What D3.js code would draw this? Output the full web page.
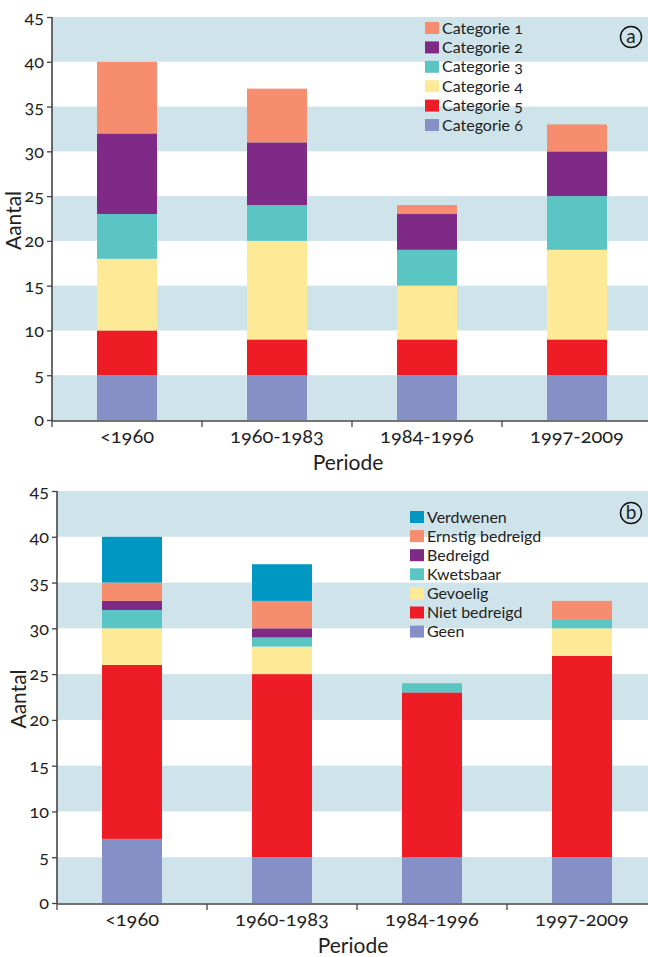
<!DOCTYPE html>
<html>
<head>
<meta charset="utf-8">
<script src="https://cdn.jsdelivr.net/npm/d3@7/dist/d3.min.js"></script>
<style>
  body { margin: 0; background: #fff; }
  text { font-family: Lato, "Open Sans", sans-serif; fill: #222; font-feature-settings: "onum"; }
</style>
</head>
<body>
<div id="main"></div>
<script>
var W = 648, H = 957;

// shared categories
var periods = ["<1960", "1960-1983", "1984-1996", "1997-2009"];
var yTicks = [0, 5, 10, 15, 20, 25, 30, 35, 40, 45];

// panel a, series listed bottom to top
var seriesA = ["Categorie 6", "Categorie 5", "Categorie 4", "Categorie 3", "Categorie 2", "Categorie 1"];
var cat6 = [5, 5, 5, 5];
var cat5 = [5, 4, 4, 4];
var cat4 = [8, 11, 6, 10];
var cat3 = [5, 4, 4, 6];
var cat2 = [9, 7, 4, 5];
var cat1 = [8, 6, 1, 3];

// panel b, series listed bottom to top
var seriesB = ["Geen", "Niet bedreigd", "Gevoelig", "Kwetsbaar", "Bedreigd", "Ernstig bedreigd", "Verdwenen"];
var geen = [7, 5, 5, 5];
var nietBedreigd = [19, 20, 18, 22];
var gevoelig = [4, 3, 0, 3];
var kwetsbaar = [2, 1, 1, 1];
var bedreigd = [1, 1, 0, 0];
var ernstig = [2, 3, 0, 2];
var verdwenen = [5, 4, 0, 0];

var colorsA = ["#8590c7", "#ee1d25", "#feea96", "#5bc5c4", "#7f2a87", "#f68d6e"];
var colorsB = ["#8590c7", "#ee1d25", "#feea96", "#5bc5c4", "#7f2a87", "#f68d6e", "#0098c3"];

var svg = d3.select("#main").append("svg").attr("width", W).attr("height", H);

var drawPanel = function (opts) {
    var g = svg.append("g");
    var x = d3.scaleBand().domain(periods).range([opts.x0, opts.x0 + 600]).paddingInner(0.6).paddingOuter(0.3);
    var xb = d3.scaleBand().domain(periods).range([opts.x0, opts.x0 + 600]);
    var y = d3.scaleLinear().domain([0, 45]).range([opts.yBottom, opts.yTop]);

    // background stripes
    g.append("g").selectAll("rect")
        .data([0, 10, 20, 30, 40])
        .enter().append("rect")
        .attr("x", opts.x0)
        .attr("width", W - opts.x0)
        .attr("y", (d) => y(d + 5))
        .attr("height", (d) => y(d) - y(d + 5))
        .attr("fill", "#cfe4ea");

    // stacked bars
    var rows = periods.map(function (p, i) {
        var r = { period: p };
        opts.keys.forEach(function (k, j) { r[k] = opts.values[j][i]; });
        return r;
    });
    var stacked = d3.stack().keys(opts.keys)(rows);
    g.append("g").selectAll("g")
        .data(stacked)
        .enter().append("g")
        .attr("fill", (d, i) => opts.colors[i])
        .selectAll("rect")
        .data((d) => d.filter((v) => v[1] > v[0]))
        .enter().append("rect")
        .attr("x", (d) => x(d.data.period))
        .attr("width", x.bandwidth())
        .attr("y", (d) => y(d[1]))
        .attr("height", (d) => y(d[0]) - y(d[1]));

    // y axis
    var yAxis = g.append("g")
        .attr("transform", "translate(" + opts.x0 + ",0)")
        .call(d3.axisLeft(y).tickValues(yTicks).tickSize(5).tickSizeOuter(0).tickPadding(3));
    // x axis with ticks at band boundaries
    var xAxis = g.append("g")
        .attr("transform", "translate(0," + (opts.yBottom + 1) + ")")
        .call(d3.axisBottom(xb).tickSize(0).tickPadding(8));
    xAxis.selectAll(".tick").append("line")
        .attr("stroke", "#444").attr("stroke-width", 1.3)
        .attr("x1", -xb.bandwidth() / 2).attr("x2", -xb.bandwidth() / 2)
        .attr("y1", 0).attr("y2", 6);
    [yAxis, xAxis].forEach(function (a) {
        a.select(".domain").attr("stroke", "#444").attr("stroke-width", 1.6);
        a.selectAll(".tick line").attr("stroke", "#444").attr("stroke-width", 1.3);
        a.selectAll("text").attr("fill", "#222");
    });
    yAxis.selectAll("text").style("font-size", "18px");
    xAxis.selectAll("text").style("font-size", "20px");
    xAxis.select(".domain").attr("d", "M" + opts.x0 + ",0H" + W);
    yAxis.select(".domain").attr("d", "M0," + opts.yTop + "V" + (opts.yBottom + 1));

    // axis titles
    g.append("text")
        .attr("x", opts.x0 + 296).attr("y", opts.yBottom + 50)
        .attr("text-anchor", "middle").style("font-size", "21px")
        .text("Periode");
    g.append("text")
        .attr("transform", "translate(" + (opts.x0 - 31) + "," + ((opts.yTop + opts.yBottom) / 2 + 2) + ") rotate(-90)")
        .attr("text-anchor", "middle").style("font-size", "21px")
        .text("Aantal");

    // legend, top series first
    var legendKeys = opts.keys.slice().reverse();
    var legendColors = opts.colors.slice().reverse();
    var leg = g.append("g").selectAll("g")
        .data(legendKeys)
        .enter().append("g")
        .attr("transform", (d, i) => "translate(" + opts.legX + "," + (opts.legY + i * opts.legStep) + ")");
    leg.append("rect")
        .attr("width", 14).attr("height", 12).attr("y", -6)
        .attr("fill", (d, i) => legendColors[i]);
    leg.append("text")
        .attr("x", 17).attr("dy", "0.35em")
        .style("font-size", "16px")
        .text((d) => d);

    // panel letter
    g.append("circle")
        .attr("cx", 631).attr("cy", opts.letterY).attr("r", 10.5)
        .attr("fill", "none").attr("stroke", "#111").attr("stroke-width", 1.5);
    g.append("text")
        .attr("x", 631).attr("y", opts.letterY).attr("dy", "0.33em")
        .attr("text-anchor", "middle").style("font-size", "19px")
        .text(opts.letter);
};

drawPanel({
    x0: 52, yTop: 17, yBottom: 420,
    keys: seriesA, values: [cat6, cat5, cat4, cat3, cat2, cat1], colors: colorsA,
    legX: 425, legY: 28, legStep: 19.4, letter: "a", letterY: 37
});

drawPanel({
    x0: 57, yTop: 491, yBottom: 903,
    keys: seriesB, values: [geen, nietBedreigd, gevoelig, kwetsbaar, bedreigd, ernstig, verdwenen], colors: colorsB,
    legX: 410, legY: 517, legStep: 19.1, letter: "b", letterY: 513
});
</script>
</body>
</html>
